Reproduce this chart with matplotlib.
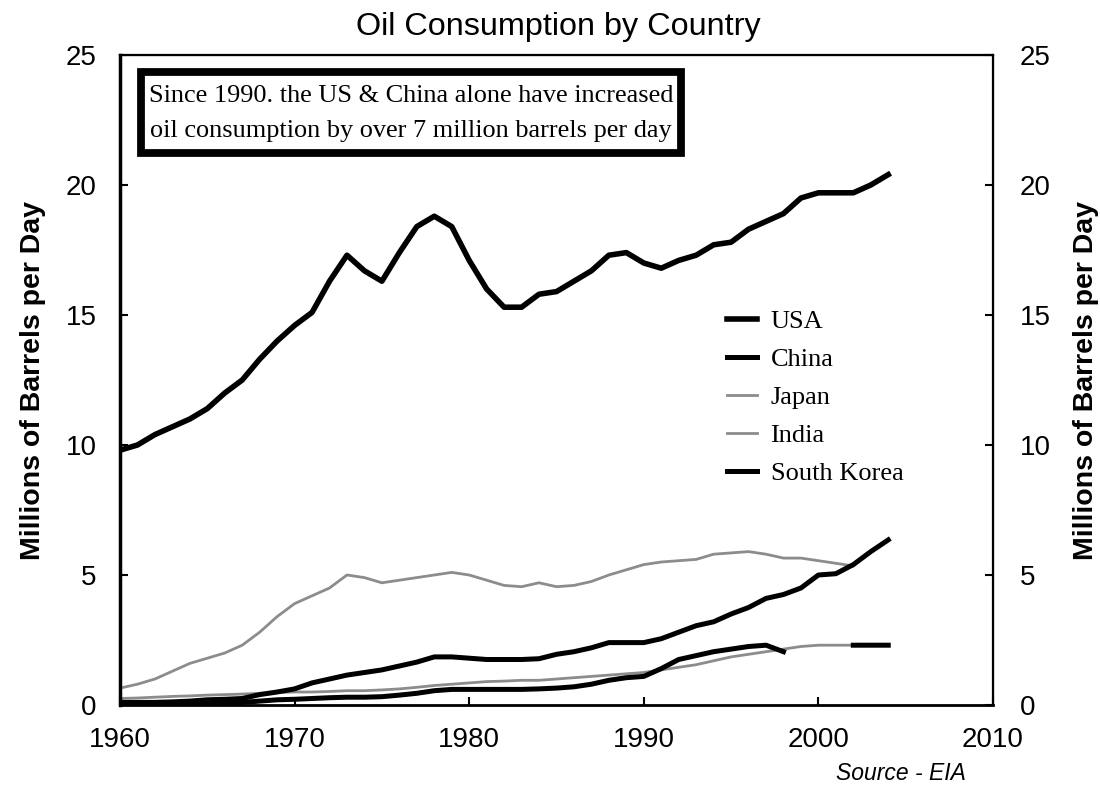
import numpy as np
import matplotlib
matplotlib.use("Agg")
import matplotlib.pyplot as plt
from matplotlib.patches import Rectangle

years = list(range(1960, 2005))

usa = [9.8, 10.0, 10.4, 10.7, 11.0, 11.4, 12.0, 12.5, 13.3, 14.0,
       14.6, 15.1, 16.3, 17.3, 16.7, 16.3, 17.4, 18.4, 18.8, 18.4,
       17.1, 16.0, 15.3, 15.3, 15.8, 15.9, 16.3, 16.7, 17.3, 17.4,
       17.0, 16.8, 17.1, 17.3, 17.7, 17.8, 18.3, 18.6, 18.9, 19.5,
       19.7, 19.7, 19.7, 20.0, 20.4]

china = [0.10, 0.10, 0.10, 0.12, 0.15, 0.20, 0.22, 0.25, 0.40, 0.50,
         0.62, 0.85, 1.00, 1.15, 1.25, 1.35, 1.50, 1.65, 1.85, 1.85,
         1.80, 1.75, 1.75, 1.75, 1.78, 1.95, 2.05, 2.20, 2.40, 2.40,
         2.40, 2.55, 2.80, 3.05, 3.20, 3.50, 3.75, 4.10, 4.25, 4.50,
         5.00, 5.05, 5.40, 5.90, 6.35]

japan_years = list(range(1960, 2003))
japan = [0.65, 0.80, 1.00, 1.30, 1.60, 1.80, 2.00, 2.30, 2.80, 3.40,
         3.90, 4.20, 4.50, 5.00, 4.90, 4.70, 4.80, 4.90, 5.00, 5.10,
         5.00, 4.80, 4.60, 4.55, 4.70, 4.55, 4.60, 4.75, 5.00, 5.20,
         5.40, 5.50, 5.55, 5.60, 5.80, 5.85, 5.90, 5.80, 5.65, 5.65,
         5.55, 5.45, 5.35]

india_years = list(range(1960, 2003))
india = [0.25, 0.27, 0.30, 0.33, 0.35, 0.38, 0.40, 0.42, 0.45, 0.48,
         0.50, 0.50, 0.52, 0.55, 0.55, 0.58, 0.62, 0.68, 0.75, 0.80,
         0.85, 0.90, 0.92, 0.95, 0.95, 1.00, 1.05, 1.10, 1.15, 1.20,
         1.25, 1.35, 1.45, 1.55, 1.70, 1.85, 1.95, 2.05, 2.15, 2.25,
         2.30, 2.30, 2.30]

korea = [0.02, 0.02, 0.03, 0.03, 0.04, 0.05, 0.07, 0.10, 0.15, 0.20,
         0.22, 0.25, 0.28, 0.30, 0.30, 0.32, 0.38, 0.45, 0.55, 0.60,
         0.60, 0.60, 0.60, 0.60, 0.62, 0.65, 0.70, 0.80, 0.95, 1.05,
         1.10, 1.40, 1.75, 1.90, 2.05, 2.15, 2.25, 2.30, 2.05, np.nan,
         np.nan, np.nan, 2.30, 2.30, 2.30]

y_ticks = [0, 5, 10, 15, 20, 25]
x_ticks = [1960, 1970, 1980, 1990, 2000, 2010]

title = "Oil Consumption by Country"
ylab = "Millions of Barrels per Day"
note_lines = ["Since 1990. the US & China alone have increased",
              "oil consumption by over 7 million barrels per day"]
source = "Source - EIA"

sans = ["Liberation Sans", "DejaVu Sans"]
narrow = ["Liberation Sans Narrow", "Liberation Sans", "DejaVu Sans"]
serif = ["Liberation Serif", "DejaVu Serif"]

W, H = 1100, 787
fig = plt.figure(figsize=(W / 100, H / 100), dpi=100)
x0, x1, ytop, ybot = 120, 993, 55, 705
ax = fig.add_axes([x0 / W, 1 - ybot / H, (x1 - x0) / W, (ybot - ytop) / H])

gray = "#8c8c8c"
ax.plot(india_years, india, color=gray, lw=2.0, label="India", zorder=2)
ax.plot(japan_years, japan, color=gray, lw=2.0, label="Japan", zorder=2)
ax.plot(years, korea, color="black", lw=3.6, label="South Korea", zorder=3)
ax.plot(years, china, color="black", lw=3.6, label="China", zorder=3)
ax.plot(years, usa, color="black", lw=4.0, label="USA", zorder=3)

ax.set_xlim(1960, 2010)
ax.set_ylim(0, 25)
ax.set_xticks(x_ticks)
ax.set_yticks(y_ticks)
ax.tick_params(axis="both", direction="in", length=6, width=1.5)
ax.tick_params(axis="y", pad=17, labelsize=20)
ax.tick_params(axis="x", pad=16, labelsize=20)
for lab in ax.get_xticklabels() + ax.get_yticklabels():
    lab.set_family(sans)
for s in ax.spines.values():
    s.set_linewidth(1.6)
ax.spines["left"].set_linewidth(2.5)
ax.spines["bottom"].set_linewidth(2.0)

ax2 = ax.twinx()
ax2.set_ylim(0, 25)
ax2.set_yticks(y_ticks)
ax2.tick_params(axis="y", direction="in", length=6, width=1.5, pad=19, labelsize=20)
for lab in ax2.get_yticklabels():
    lab.set_family(sans)
ax2.set_ylabel(ylab, family=narrow, fontweight="bold", fontsize=20.5, labelpad=16)
ax.set_ylabel(ylab, family=narrow, fontweight="bold", fontsize=20.5, labelpad=14)

fig.text(558 / W, 1 - 27 / H, title, family=sans, fontsize=23.3, ha="center", va="center")

# annotation box (figure pixel coordinates converted to figure fraction)
bx0, bx1, by0, by1 = 141, 681, 72, 153
fig.patches.append(Rectangle((bx0 / W, 1 - by1 / H), (bx1 - bx0) / W, (by1 - by0) / H,
                             transform=fig.transFigure, fc="white", ec="black",
                             lw=5.6, zorder=5))
for i, line in enumerate(note_lines):
    fig.text(411 / W, 1 - (96 + 35 * i) / H, line, family=serif, fontsize=18.9,
             ha="center", va="center", zorder=6)

fig.text(966 / W, 1 - 773 / H, source, family=sans, style="italic", fontsize=16.5,
         ha="right", va="center")

handles, labels = ax.get_legend_handles_labels()
order = ["USA", "China", "Japan", "India", "South Korea"]
hmap = dict(zip(labels, handles))
leg = ax.legend([hmap[k] for k in order], order, loc="upper left",
                bbox_to_anchor=((727 - x0) / (x1 - x0), (ybot - 310) / (ybot - ytop)),
                frameon=False, prop={"family": serif, "size": 19},
                handlelength=1.15, handletextpad=0.5, labelspacing=0.55,
                borderaxespad=0, borderpad=0)

fig.savefig("out.png", dpi=100)
